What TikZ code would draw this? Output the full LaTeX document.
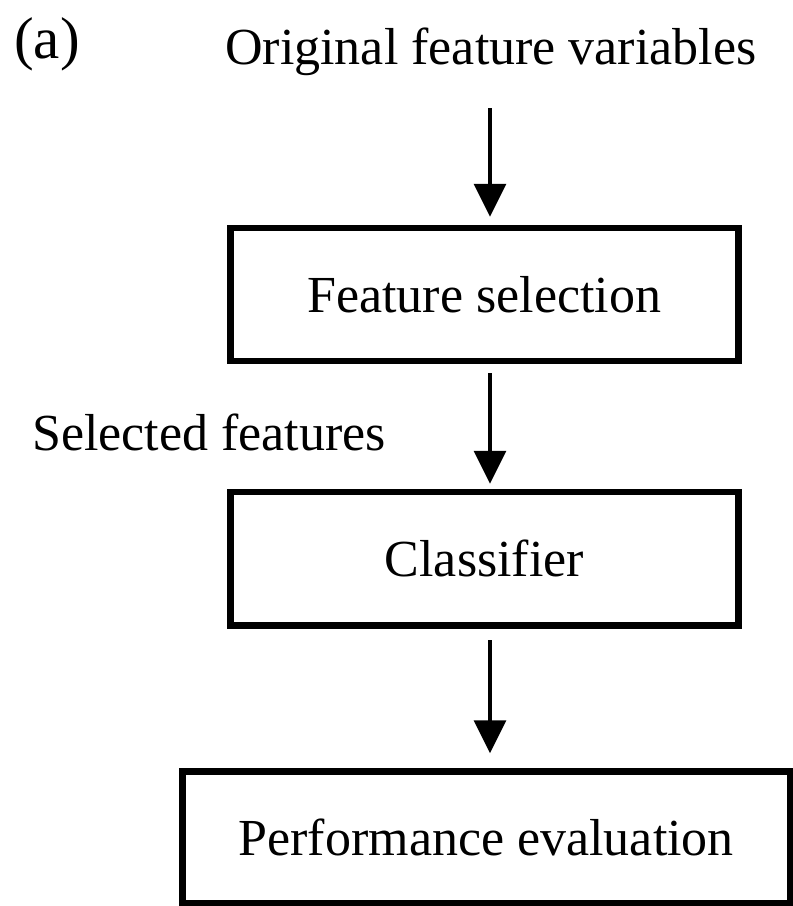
\documentclass[tikz,border=0pt]{standalone}
\usepackage{fontspec}
\setmainfont{Liberation Serif}
\usetikzlibrary{arrows.meta}
\begin{document}
\begin{tikzpicture}[x=1pt,y=-1pt,
  lbl/.style={inner sep=0pt,font=\fontsize{52}{60}\selectfont},
  procbox/.style={draw=black,line width=6.5pt,inner sep=0pt,font=\fontsize{52}{60}\selectfont},
  arr/.style={line width=3.5pt,-{Triangle[width=32pt,length=33pt]}}]
\useasboundingbox (0,0) rectangle (793,906);
\node[lbl,anchor=base west,font=\fontsize{59}{66}\selectfont] (tag) at (14,58) {(a)};
\node[lbl,anchor=base west] (orig) at (225,64) {Original feature variables};
\node[lbl,anchor=base west] (sel) at (32,450) {Selected features};
\node[procbox,minimum width=508pt,minimum height=133pt] (b1) at (484.25,294.5) {Feature selection};
\node[procbox,minimum width=508pt,minimum height=133.5pt] (b2) at (484.5,558.75) {Classifier};
\node[procbox,minimum width=607.5pt,minimum height=131.5pt] (b3) at (486.25,837.25) {Performance evaluation};
\coordinate (s1) at (490,108);
\draw[arr,shorten >=8pt] (s1) -- (b1.north -| s1);
\draw[arr,shorten <=9pt,shorten >=5pt] (b1.south -| s1) -- (b2.north -| s1);
\draw[arr,shorten <=11.5pt,shorten >=15pt] (b2.south -| s1) -- (b3.north -| s1);
\end{tikzpicture}
\end{document}
